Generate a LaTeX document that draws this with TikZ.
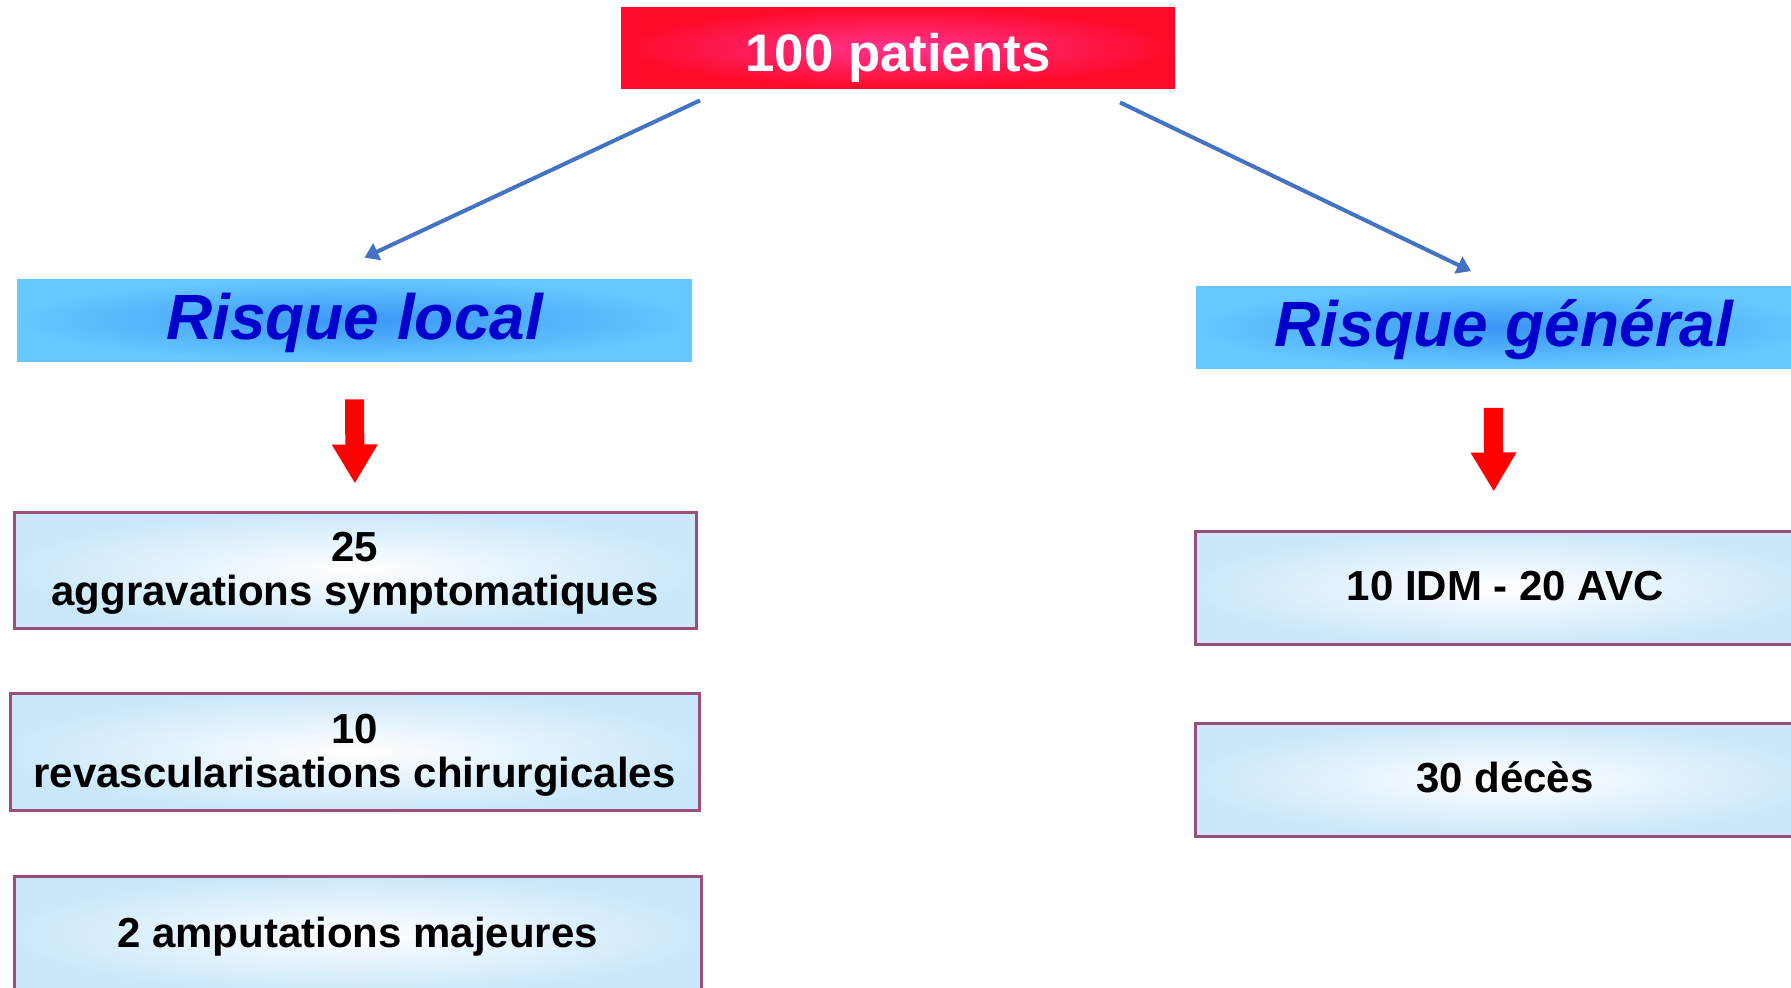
\documentclass[tikz,border=0pt]{standalone}
\usepackage{fontspec}
\setmainfont{Liberation Sans}
\usetikzlibrary{arrows.meta,calc}

\definecolor{titlered}{HTML}{FF0A28}
\definecolor{titlepink}{HTML}{FF3390}
\definecolor{skyedge}{HTML}{66C8FF}
\definecolor{skymid}{HTML}{3A96F5}
\definecolor{riskblue}{HTML}{0000CC}
\definecolor{paleedge}{HTML}{CBE8FB}
\definecolor{boxframe}{HTML}{9B4E78}
\definecolor{linkblue}{HTML}{4472C4}

\begin{document}
\begin{tikzpicture}[x=0.5pt,y=-0.5pt,
    titlebox/.style={inner sep=0pt, minimum width=277pt, minimum height=40.5pt,
      text height=23.5pt, text depth=0pt,
      shading=radial, inner color=titlepink, outer color=titlered,
      text=white, font=\fontsize{26.4}{30}\selectfont\bfseries},
    riskbox/.style={inner sep=0pt, minimum height=41pt,
      text height=19pt, text depth=0pt,
      shading=radial, inner color=skymid, outer color=skyedge,
      text=riskblue, font=\fontsize{32}{36}\selectfont\bfseries\itshape},
    countbox/.style={draw=boxframe, line width=1.5pt, inner sep=0pt,
      shading=radial, inner color=white, outer color=paleedge,
      align=center, font=\fontsize{21}{22}\selectfont\bfseries},
    oneline/.style={text height=13pt, text depth=0pt},
    twoline/.style={text height=35.5pt, text depth=0pt},
    link/.style={draw=linkblue, line width=2pt, -{Triangle[width=9pt,length=7pt]}},
    downarrow/.style={draw=red, line width=9.5pt, -{Triangle[width=21.5pt,length=19.5pt]}}
  ]
            \useasboundingbox (0,0) rectangle (1791,987);

            \node[titlebox] (top) at (898,47.5) {100 patients};

            \node[riskbox, minimum width=337.5pt] (rl) at (354.5,320) {Risque local};
            \node[riskbox, minimum width=308pt] (rg) at (1504,327.5) {Risque général};

            \node[countbox, twoline, minimum width=341pt, minimum height=58pt] (b25) at (355,570) {25\\aggravations symptomatiques};
            \node[countbox, twoline, minimum width=344.5pt, minimum height=58.5pt] (b10) at (354.5,751.5) {10\\revascularisations chirurgicales};
            \node[countbox, oneline, minimum width=343.5pt, minimum height=58pt] (b2) at (357.5,934) {2 amputations majeures};
            \node[countbox, oneline, minimum width=310pt, minimum height=56.5pt] (bidm) at (1505,587.5) {10 IDM - 20 AVC};
            \node[countbox, oneline, minimum width=310pt, minimum height=56.5pt] (bdec) at (1505,779.5) {30 décès};

            \draw[link] ($(top.south)+(-198,12)$) to ($(rl.north)+(10,-21)$);
            \draw[link] ($(top.south)+(222,14)$) to ($(rg.north)+(-33,-15)$);
            \draw[downarrow, shorten <=19pt, shorten >=13.5pt] (rl.south) to (b25.north);
            \draw[downarrow, shorten <=19.5pt, shorten >=19pt] ([xshift=-5.5pt]rg.south) to ([xshift=-5.5pt]bidm.north);
        \end{tikzpicture}
\end{document}
